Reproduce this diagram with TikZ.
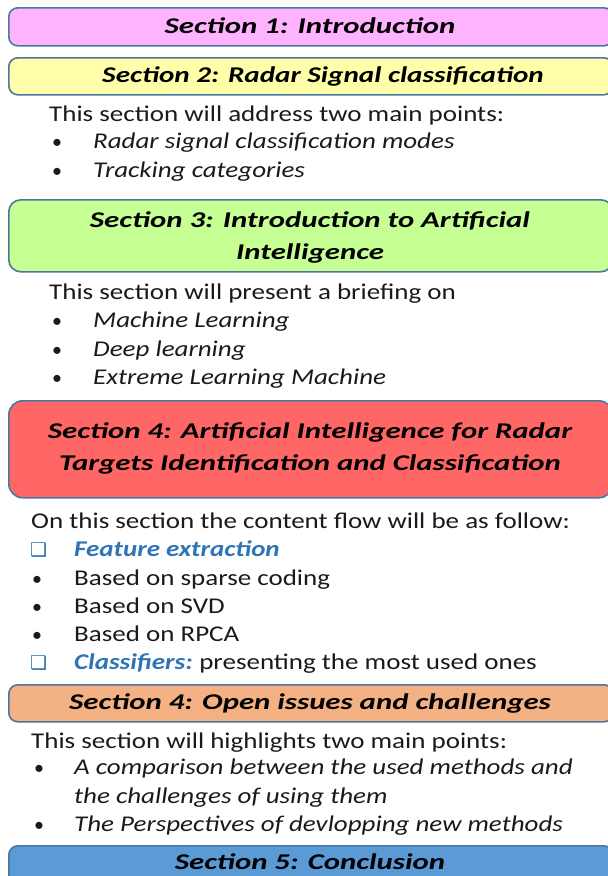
\documentclass[tikz,border=0pt]{standalone}
\usepackage{fontspec}
\setmainfont{Carlito}
\newfontfamily\bodyf[FakeStretch=1.2]{Carlito}
\newfontfamily\headf[FakeStretch=1.37]{Carlito}
\newfontfamily\headnf[FakeStretch=1.295]{Carlito}
\newfontfamily\djv{DejaVu Sans}
\definecolor{boxline}{HTML}{4A76A0}
\definecolor{cpink}{HTML}{FFB3FF}
\definecolor{cyellow}{HTML}{FFFFAA}
\definecolor{cgreen}{HTML}{C6FF93}
\definecolor{cred}{HTML}{FF6666}
\definecolor{corange}{HTML}{F4B183}
\definecolor{cblue}{HTML}{5B9BD5}
\definecolor{tblue}{HTML}{2E75B6}
\definecolor{tdark}{HTML}{1A1A1A}
\begin{document}
\begin{tikzpicture}[x=1pt,y=-1pt,
  secbox/.style={draw=boxline, line width=1.6pt, rounded corners=9pt, minimum width=604pt, anchor=north west, inner sep=0pt},
  head/.style={anchor=base, inner sep=0pt, text=black, font=\headf\fontsize{22.5}{26}\selectfont\bfseries\itshape},
  headn/.style={head, font=\headnf\fontsize{22.5}{26}\selectfont\bfseries\itshape},
  body/.style={anchor=base west, inner sep=0pt, text=tdark, font=\bodyf\fontsize{22.5}{26}\selectfont},
  ital/.style={body, font=\bodyf\fontsize{22.5}{26}\selectfont\itshape},
  bul/.style={anchor=base west, inner sep=0pt, text=tdark, font=\fontsize{20}{26}\selectfont},
  chk/.style={anchor=base west, inner sep=0pt, text=tblue, font=\djv\fontsize{19}{20}\selectfont},
  blueit/.style={anchor=base west, inner sep=0pt, text=tblue, font=\bodyf\fontsize{22.5}{26}\selectfont\bfseries\itshape}]
\useasboundingbox (0,0) rectangle (608,876);
\fill[white] (0,0) rectangle (608,876);

% Section 1
\node[secbox, fill=cpink, minimum height=38pt] (b1) at (8,7) {};
\node[head] (t1) at (310,33) {Section 1: Introduction};

% Section 2
\node[secbox, fill=cyellow, minimum height=37pt] (b2) at (8,57) {};
\node[headn] (t2) at (323,82) {Section 2: Radar Signal classification};
\node[body] (p2) at (49,121) {This section will address two main points:};
\node[bul] (p2a) at (52,148) {•};
\node[ital] (p2at) at (93,148) {Radar signal classification modes};
\node[bul] (p2b) at (52,177) {•};
\node[ital] (p2bt) at (93,177) {Tracking categories};

% Section 3
\node[secbox, fill=cgreen, minimum height=72pt, rounded corners=12pt] (b3) at (8,199) {};
\node[head] (t3a) at (310,227) {Section 3: Introduction to Artificial};
\node[head] (t3b) at (310,259) {Intelligence};
\node[body] (p3) at (49,299) {This section will present a briefing on};
\node[bul] (p3a) at (52,327) {•};
\node[ital] (p3at) at (93,327) {Machine Learning};
\node[bul] (p3b) at (52,356) {•};
\node[ital] (p3bt) at (93,356) {Deep learning};
\node[bul] (p3c) at (52,384) {•};
\node[ital] (p3ct) at (93,384) {Extreme Learning Machine};

% Section 4
\node[secbox, fill=cred, minimum height=97pt, rounded corners=14pt] (b4) at (8,400) {};
\node[head] (t4a) at (310,438) {Section 4: Artificial Intelligence for Radar};
\node[head] (t4b) at (310,470) {Targets Identification and Classification};
\node[body] (p4) at (31,528) {On this section the content flow will be as follow:};
\node[chk] (c4a) at (30,556) {❑};
\node[blueit] (p4at) at (74,556) {Feature extraction};
\node[bul] (p4b) at (32,585) {•};
\node[body] (p4bt) at (74,585) {Based on sparse coding};
\node[bul] (p4c) at (32,613) {•};
\node[body] (p4ct) at (74,613) {Based on SVD};
\node[bul] (p4d) at (32,641) {•};
\node[body] (p4dt) at (74,641) {Based on RPCA};
\node[chk] (c4e) at (30,669) {❑};
\node[blueit] (p4et) at (74,669) {Classifiers:};
\node[body, anchor=base west] (p4eu) at (p4et.base east) {\ presenting the most used ones};

% Section 5 (open issues)
\node[secbox, fill=corange, minimum height=37pt] (b5) at (8,684) {};
\node[head] (t5) at (310,709) {Section 4: Open issues and challenges};
\node[body] (p5) at (31,748) {This section will highlights two main points:};
\node[bul] (p5a) at (34,774) {•};
\node[ital] (p5at) at (74,774) {A comparison between the used methods and};
\node[ital] (p5au) at (74,803) {the challenges of using them};
\node[bul] (p5b) at (34,831) {•};
\node[ital] (p5bt) at (74,831) {The Perspectives of devlopping new methods};

% Section 6 (conclusion)
\node[secbox, fill=cblue, minimum height=42pt] (b6) at (8,845) {};
\node[head] (t6) at (310,869) {Section 5: Conclusion};
\end{tikzpicture}
\end{document}
